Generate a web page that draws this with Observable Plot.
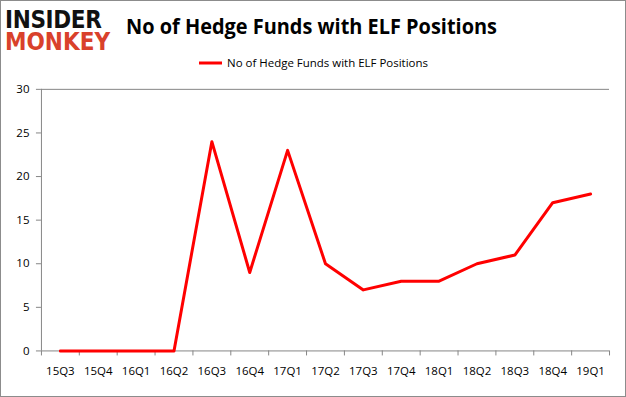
<!DOCTYPE html>
<html><head><meta charset="utf-8">
<script src="https://cdn.jsdelivr.net/npm/d3@7"></script>
<script src="https://cdn.jsdelivr.net/npm/@observablehq/plot@0.6"></script>
<style>
html,body{margin:0;padding:0;background:#fff;}
#wrap{position:relative;width:626px;height:397px;box-sizing:border-box;border:1px solid #8c8c8c;overflow:hidden;}
#chart{position:absolute;left:-1px;top:-1px;}
#overlay{position:absolute;left:-1px;top:-1px;pointer-events:none;}
#logo{position:absolute;left:4px;top:8px;white-space:pre;font-family:'DejaVu Sans',sans-serif;font-weight:900;
  font-size:24px;line-height:22px;color:#d9412b;transform:scaleX(0.9);transform-origin:0 0;margin:0;}
#logo::first-line{color:#111;letter-spacing:-0.4px;}
</style></head>
<body><div id="wrap"><div id="chart"></div>
<svg id="overlay" width="626" height="397"></svg>
<div id="logo"></div></div>
<script>
const quarters = ["15Q3","15Q4","16Q1","16Q2","16Q3","16Q4","17Q1","17Q2","17Q3","17Q4","18Q1","18Q2","18Q3","18Q4","19Q1"];
const funds = [0,0,0,0,24,9,23,10,7,8,8,10,11,17,18];
const yTicks = [0,5,10,15,20,25,30];
const title = "No of Hedge Funds with ELF Positions";
const seriesName = "No of Hedge Funds with ELF Positions";
const logoText = "INSIDER\nMONKEY";

const data = quarters.map((q,i)=>({i, q, v: funds[i]}));
const boundaries = d3.range(quarters.length + 1).map(k => k - 0.5);
const font = "'Open Sans', sans-serif";
const axisColor = "#868686";

const chart = Plot.plot({
  width: 626, height: 397,
  marginLeft: 41, marginRight: 16, marginTop: 89, marginBottom: 46,
  style: {fontFamily: font, fontSize: "11.5px", color: "#000", background: "transparent"},
  x: {type: "linear", domain: [-0.5, quarters.length - 0.5], axis: null, label: null},
  y: {domain: [0, 30], axis: null, label: null},
  marks: [
    Plot.ruleY([30], {stroke: axisColor, strokeWidth: 1}),
    Plot.ruleY([0], {stroke: axisColor, strokeWidth: 1}),
    Plot.ruleX([-0.5], {stroke: axisColor, strokeWidth: 1}),
    Plot.axisY({ticks: yTicks, tickSize: 5, tickPadding: 7, stroke: axisColor, fill: "#000", label: null, tickFormat: d => d}),
    Plot.axisX({ticks: boundaries, tickSize: 5, stroke: axisColor, label: null, tickFormat: () => ""}),
    Plot.axisX({ticks: d3.range(quarters.length), tickSize: 0, tickPadding: 16, fill: "#000", label: null, tickFormat: i => quarters[i]}),
    Plot.line(data, {x: "i", y: "v", stroke: "#ff0000", strokeWidth: 3, strokeLinejoin: "round"})
  ]
});
document.getElementById("chart").append(chart);
document.getElementById("logo").textContent = logoText;

const ov = d3.select("#overlay");
// title
ov.append("text").attr("x", 126).attr("y", 34).attr("textLength", 371).attr("lengthAdjust", "spacingAndGlyphs")
  .attr("font-family", font).attr("font-weight", 700).attr("font-size", 21)
  .attr("fill", "#000").text(title);
// legend
ov.append("line").attr("x1", 199).attr("x2", 222).attr("y1", 63).attr("y2", 63)
  .attr("stroke", "#ff0000").attr("stroke-width", 3);
ov.append("text").attr("x", 227).attr("y", 67).attr("textLength", 201).attr("lengthAdjust", "spacingAndGlyphs")
  .attr("font-family", font).attr("font-size", 11.5).attr("fill", "#000").text(seriesName);
</script></body></html>
